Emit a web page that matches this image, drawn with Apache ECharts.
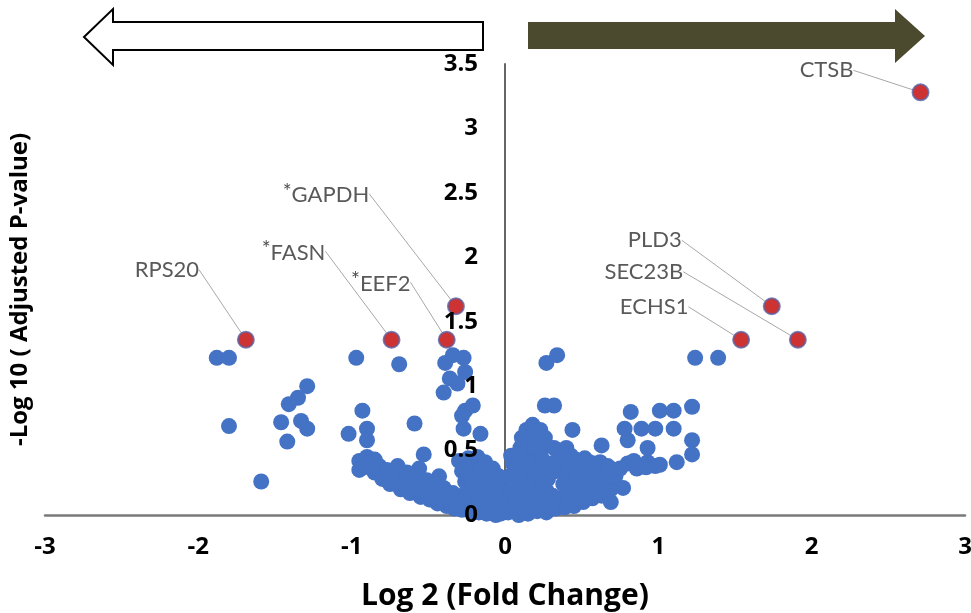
<!DOCTYPE html>
<html>
<head>
<meta charset="utf-8" />
<title>volcano</title>
<script src="https://cdn.jsdelivr.net/npm/echarts@6/dist/echarts.min.js"></script>
<style>
  html, body { margin: 0; padding: 0; background: #fff; }
  #main { width: 971px; height: 613px; }
</style>
</head>
<body>
<div id="main"></div>
<script>
// highlighted proteins
var geneNames = ['CTSB', 'PLD3', 'SEC23B', 'ECHS1', 'RPS20', 'FASN', 'EEF2', 'GAPDH'];
var geneStar  = [false, false, false, false, false, true, true, true];
var geneFC    = [2.71, 1.74, 1.91, 1.54, -1.69, -0.74, -0.38, -0.32];
var geneP     = [3.28, 1.62, 1.36, 1.36, 1.36, 1.36, 1.36, 1.62];

// all other proteins: [log2 fold change, -log10 adj p]
var bluePoints = [
  // left, scattered
  [-1.88,1.22],[-1.80,1.22],[-1.29,1.00],[-1.35,0.91],[-1.41,0.86],[-1.46,0.72],[-1.33,0.73],
  [-1.29,0.67],[-1.42,0.57],[-1.80,0.69],[-1.59,0.26],[-0.97,1.22],[-0.69,1.17],[-0.93,0.81],
  [-0.59,0.71],[-1.02,0.63],[-0.90,0.67],[-0.90,0.58],[-0.53,0.47],[-0.43,0.30],[-0.93,0.39],
  // column next to the axis
  [-0.39,1.18],[-0.34,1.24],[-0.27,1.22],[-0.26,1.11],[-0.36,1.06],[-0.31,1.02],[-0.40,0.95],
  [-0.26,0.81],[-0.21,0.85],[-0.28,0.77],[-0.27,0.67],[-0.16,0.63],
  // left band
  [-0.95,0.42],[-0.90,0.45],[-0.85,0.43],[-0.92,0.37],
  [-0.95,0.35],[-0.88,0.40],[-0.85,0.33],[-0.82,0.38],[-0.80,0.28],[-0.77,0.35],[-0.75,0.24],
  [-0.72,0.31],[-0.70,0.38],[-0.68,0.20],[-0.66,0.27],[-0.64,0.33],[-0.62,0.17],[-0.60,0.24],
  [-0.58,0.30],[-0.56,0.36],[-0.55,0.14],[-0.53,0.21],[-0.51,0.27],[-0.49,0.12],[-0.47,0.18],
  [-0.45,0.24],[-0.44,0.09],[-0.42,0.15],[-0.40,0.21],[-0.38,0.07],[-0.36,0.12],[-0.34,0.17],
  [-0.33,0.05],[-0.30,0.10],[-0.28,0.15],[-0.28,0.04],[-0.25,0.08],[-0.23,0.12],[-0.22,0.03],
  [-0.19,0.06],[-0.17,0.02],[-0.14,0.04],[-0.12,0.01],[-0.09,0.02],[-0.06,0.00],[-0.03,0.01],
  [-0.78,0.30],[-0.74,0.28],[-0.63,0.22],[-0.57,0.19],[-0.50,0.16],[-0.46,0.13],[-0.41,0.10],
  [-0.35,0.09],[-0.31,0.07],[-0.17,0.10],[-0.11,0.07],[-0.07,0.05],[-0.01,0.02],
  // left cluster by the axis
  [-0.30,0.42],[-0.24,0.44],[-0.18,0.45],[-0.13,0.41],[-0.08,0.36],[-0.04,0.30],[-0.28,0.34],
  [-0.22,0.36],[-0.16,0.35],[-0.10,0.30],[-0.05,0.24],[-0.26,0.26],[-0.19,0.27],[-0.13,0.24],
  [-0.08,0.20],[-0.03,0.16],[-0.20,0.19],[-0.15,0.16],[-0.10,0.13],[-0.05,0.10],[-0.02,0.06],
  [-0.24,0.30],[-0.21,0.23],[-0.12,0.19],[-0.06,0.15],
  // right cluster
  [0.02,0.02],[0.03,0.10],[0.04,0.20],[0.03,0.30],[0.05,0.40],[0.04,0.46],
  [0.09,0.00],[0.10,0.08],[0.09,0.16],[0.10,0.25],[0.10,0.34],[0.09,0.43],[0.10,0.52],[0.11,0.60],
  [0.15,0.01],[0.16,0.10],[0.15,0.19],[0.16,0.28],[0.15,0.37],[0.16,0.46],[0.15,0.55],[0.14,0.66],[0.18,0.70],
  [0.21,0.03],[0.22,0.12],[0.21,0.21],[0.22,0.30],[0.21,0.39],[0.22,0.48],[0.21,0.58],[0.23,0.66],
  [0.27,0.02],[0.28,0.10],[0.27,0.19],[0.28,0.28],[0.27,0.36],[0.27,0.54],[0.26,0.60],
  [0.33,0.05],[0.34,0.13],[0.33,0.34],[0.34,0.42],[0.32,0.52],
  [0.39,0.06],[0.40,0.15],[0.38,0.24],[0.40,0.31],[0.39,0.40],[0.40,0.52],
  [0.45,0.07],[0.46,0.26],[0.45,0.34],[0.46,0.43],
  [0.51,0.10],[0.52,0.19],[0.51,0.28],[0.50,0.36],[0.52,0.44],
  [0.57,0.13],[0.58,0.22],[0.57,0.31],[0.58,0.40],
  [0.63,0.15],[0.64,0.24],[0.63,0.33],[0.62,0.41],
  [0.69,0.10],[0.69,0.20],[0.70,0.29],[0.69,0.36],
  [0.06,0.06],[0.07,0.15],[0.06,0.25],[0.07,0.35],[0.12,0.05],[0.13,0.14],[0.12,0.22],[0.13,0.31],
  [0.12,0.40],[0.13,0.49],[0.18,0.06],[0.19,0.15],[0.18,0.24],[0.19,0.33],[0.18,0.42],[0.19,0.52],
  [0.18,0.61],[0.24,0.07],[0.25,0.16],[0.24,0.25],[0.25,0.34],[0.24,0.44],[0.30,0.06],[0.31,0.15],
  [0.30,0.40],[0.37,0.46],[0.42,0.10],[0.43,0.20],[0.42,0.37],[0.43,0.46],[0.48,0.12],[0.49,0.22],
  [0.48,0.31],[0.48,0.40],[0.54,0.13],[0.55,0.24],[0.54,0.33],[0.55,0.41],[0.60,0.17],[0.61,0.27],
  [0.60,0.36],[0.66,0.19],[0.66,0.29],[0.67,0.38],
  [0.72,0.30],[0.75,0.36],[0.77,0.21],[0.80,0.40],[0.84,0.42],[0.86,0.36],[0.92,0.37],
  [0.93,0.41],[0.98,0.38],[1.01,0.39],[1.12,0.41],
  // right, scattered
  [0.27,1.18],[0.34,1.24],[0.26,0.85],[0.32,0.85],[0.44,0.66],[0.63,0.54],[0.82,0.80],
  [0.78,0.67],[0.89,0.67],[0.98,0.67],[1.01,0.81],[1.10,0.81],[1.10,0.67],[0.80,0.58],
  [0.93,0.52],[1.22,0.84],[1.22,0.58],[1.22,0.47],[1.24,1.22],[1.39,1.22]
];

var xTicks = [-3, 3, 1];
var yTicks = [0, 3.5, 0.5];

// where each gene label sits, relative to its dot (px)
var labelShift = {
  CTSB: [-94, -22], PLD3: [-117, -66], SEC23B: [-154, -68], ECHS1: [-87, -33],
  RPS20: [-79, -70], FASN: [-98, -87], EEF2: [-66, -56], GAPDH: [-130, -111]
};

var FONT = 'Lato, "Noto Sans", sans-serif';
var AXFONT = '"Open Sans", Lato, sans-serif';

var geneData = geneNames.map(function (n, i) {
  return { name: n, value: [geneFC[i], geneP[i]] };
});

var chart = echarts.init(document.getElementById('main'));

chart.setOption({
  backgroundColor: '#fff',
  animation: false,
  textStyle: { fontFamily: FONT },
  grid: { left: 45, right: 6, top: 64, bottom: 98, containLabel: false, outerBoundsMode: 'none' },
  xAxis: {
    type: 'value',
    min: xTicks[0], max: xTicks[1], interval: xTicks[2],
    splitLine: { show: false },
    axisTick: { show: false },
    axisLine: { lineStyle: { color: '#7a7a7a', width: 2.5 } },
    axisLabel: { margin: 20, color: '#000', fontWeight: 'bold', fontSize: 24, fontFamily: AXFONT },
    name: 'Log 2 (Fold Change)',
    nameLocation: 'middle',
    nameGap: 66,
    nameTextStyle: { color: '#000', fontWeight: 'bold', fontSize: 30, fontFamily: AXFONT }
  },
  yAxis: [{
    type: 'value',
    min: yTicks[0], max: yTicks[1], interval: yTicks[2],
    splitLine: { show: false },
    axisTick: { show: false },
    axisLabel: { show: false },
    axisLine: { show: true, onZero: true, onZeroAxisIndex: 0, lineStyle: { color: '#666', width: 2 } }
  }, {
    // labels only, sitting on the zero line and drawn over the dots
    type: 'value',
    position: 'left',
    offset: -460,
    z: 5,
    min: yTicks[0], max: yTicks[1], interval: yTicks[2],
    splitLine: { show: false },
    axisTick: { show: false },
    axisLine: { show: false, onZero: false },
    axisLabel: { margin: 27, color: '#000', fontWeight: 'bold', fontSize: 24, fontFamily: AXFONT },
    name: '-Log 10 ( Adjusted P-value)',
    nameLocation: 'middle',
    nameGap: 473,
    nameTextStyle: { color: '#000', fontWeight: 'bold', fontSize: 24, fontFamily: AXFONT }
  }],
  graphic: [{
    type: 'polygon',
    shape: { points: [[84, 37], [113, 9], [113, 22], [483, 22], [483, 50], [113, 50], [113, 65]] },
    style: { fill: '#fff', stroke: '#000', lineWidth: 2 }
  }, {
    type: 'polygon',
    shape: { points: [[528, 22], [895, 22], [895, 9], [925, 36], [895, 63], [895, 49], [528, 49]] },
    style: { fill: '#4b4a2e' }
  }],
  series: [{
    type: 'scatter',
    clip: false,
    data: bluePoints,
    symbolSize: 16,
    itemStyle: { color: '#4472c4', opacity: 1 }
  }, {
    type: 'scatter',
    clip: false,
    z: 4,
    data: geneData,
    symbolSize: 16,
    itemStyle: { color: '#c00000', borderColor: '#5d62a3', borderWidth: 2 },
    label: {
      show: true,
      position: 'inside',
      formatter: function (p) {
        return (geneStar[p.dataIndex] ? '{s|*}' : '') + '{t|' + p.name + '}';
      },
      rich: {
        s: { fontSize: 21, lineHeight: 12, verticalAlign: 'top', color: '#222', fontFamily: FONT },
        t: { fontSize: 22, lineHeight: 28, color: '#2f2f2f', fontFamily: FONT }
      }
    },
    labelLayout: function (p) {
      var s = labelShift[geneNames[p.dataIndex]];
      return { dx: s[0], dy: s[1] };
    },
    labelLine: { show: true, lineStyle: { color: '#a8a8a8', width: 1 } }
  }]
});
</script>
</body>
</html>
